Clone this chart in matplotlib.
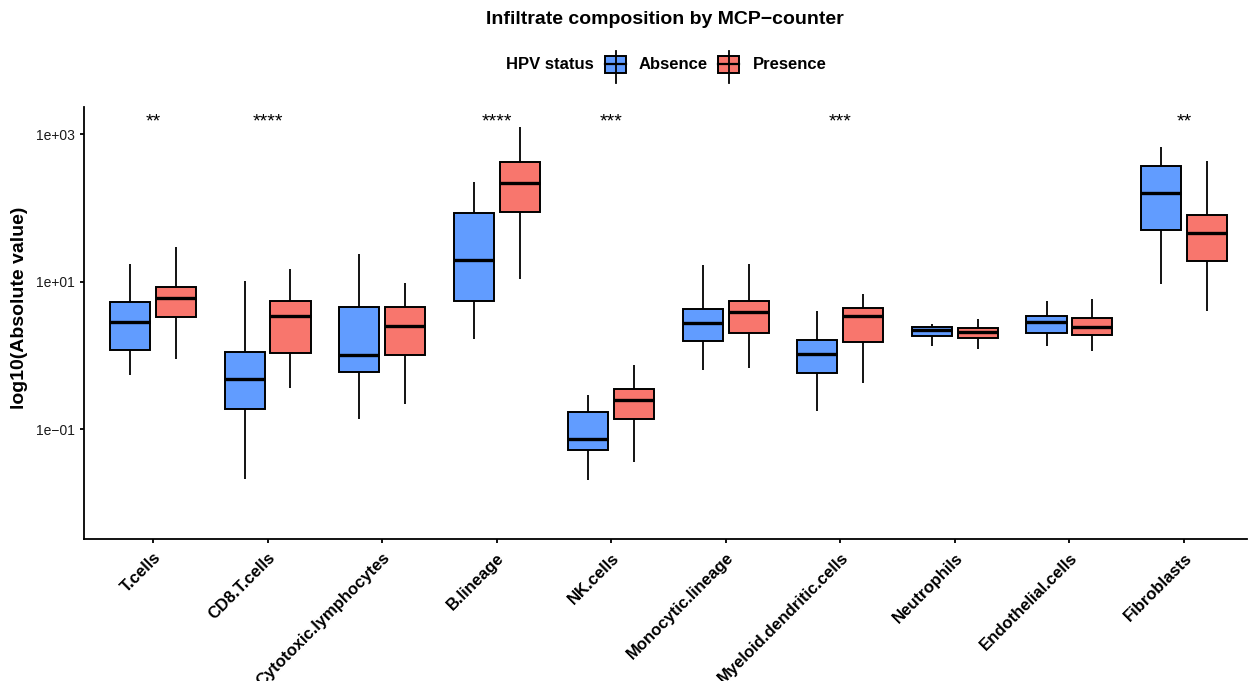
import matplotlib
matplotlib.use("Agg")
import matplotlib.pyplot as plt
from matplotlib.patches import Rectangle
from matplotlib.lines import Line2D
from matplotlib.ticker import FixedLocator, FixedFormatter, NullLocator

plt.rcParams['font.family'] = ['Liberation Sans', 'DejaVu Sans']

# Cell populations estimated by MCP-counter
cell_types = ["T.cells", "CD8.T.cells", "Cytotoxic.lymphocytes", "B.lineage",
              "NK.cells", "Monocytic.lineage", "Myeloid.dendritic.cells",
              "Neutrophils", "Endothelial.cells", "Fibroblasts"]

# Box statistics, HPV absent
absence_whislo = [0.54, 0.021, 0.136, 1.69, 0.0206, 0.628, 0.174, 1.34, 1.34, 9.22]
absence_q1     = [1.18, 0.189, 0.60, 5.52, 0.0516, 1.57, 0.582, 1.85, 2.03, 50.3]
absence_med    = [2.81, 0.483, 1.01, 19.9, 0.0734, 2.73, 1.04, 2.23, 2.81, 158]
absence_q3     = [5.25, 1.12, 4.58, 86.3, 0.171, 4.30, 1.62, 2.41, 3.46, 372]
absence_whishi = [17.2, 10.1, 23.5, 227, 0.293, 16.9, 3.97, 2.64, 5.52, 666]

# Box statistics, HPV present
presence_whislo = [0.90, 0.365, 0.221, 10.8, 0.0355, 0.668, 0.426, 1.21, 1.14, 4.04]
presence_q1     = [3.35, 1.09, 1.01, 88.2, 0.136, 2.01, 1.51, 1.74, 1.87, 19.3]
presence_med    = [6.01, 3.39, 2.51, 220, 0.246, 3.88, 3.39, 2.08, 2.43, 45.4]
presence_q3     = [8.47, 5.47, 4.54, 417, 0.35, 5.52, 4.40, 2.35, 3.19, 80.4]
presence_whishi = [29.9, 15.0, 9.5, 1268, 0.734, 17.4, 6.81, 3.09, 5.77, 434]

significance = ["**", "****", "", "****", "***", "", "***", "", "", "**"]
significance_y = 1480

y_ticks = [0.1, 10, 1000]
y_tick_labels = ["1e\u221201", "1e+01", "1e+03"]

groups = ["Absence", "Presence"]
colors = {"Absence": "#619CFF", "Presence": "#F8766D"}

W, H = 1252, 681
fig = plt.figure(figsize=(W / 100, H / 100), dpi=100)
ax = fig.add_axes([84.3 / W, 1 - 538.7 / H, (1247 - 84.3) / W, (538.7 - 106.7) / H])


def make_stats(lo, q1, med, q3, hi):
    return [dict(whislo=a, q1=b, med=c, q3=d, whishi=e, fliers=[])
            for a, b, c, d, e in zip(lo, q1, med, q3, hi)]


series = {
    "Absence": make_stats(absence_whislo, absence_q1, absence_med, absence_q3, absence_whishi),
    "Presence": make_stats(presence_whislo, presence_q1, presence_med, presence_q3, presence_whishi),
}
offsets = {"Absence": -0.2, "Presence": 0.2}
base = list(range(1, len(cell_types) + 1))

for g in groups:
    ax.bxp(series[g], positions=[p + offsets[g] for p in base], widths=0.35,
           patch_artist=True, showcaps=False, showfliers=False,
           boxprops=dict(facecolor=colors[g], edgecolor="black", linewidth=1.4),
           medianprops=dict(color="black", linewidth=2.4, solid_capstyle="butt"),
           whiskerprops=dict(color="black", linewidth=1.3, solid_capstyle="butt"),
           manage_ticks=False)

ax.set_yscale("log")
ax.set_ylim(10 ** -2.487, 10 ** 3.375)
ax.set_xlim(0.4, 10.55)

for x, s in zip(base, significance):
    if s:
        ax.text(x, significance_y, s, ha="center", va="center", fontsize=14)

for side in ("top", "right"):
    ax.spines[side].set_visible(False)
for side in ("left", "bottom"):
    ax.spines[side].set_linewidth(1.3)
    ax.spines[side].set_color("black")

ax.yaxis.set_major_locator(FixedLocator(y_ticks))
ax.yaxis.set_major_formatter(FixedFormatter(y_tick_labels))
ax.yaxis.set_minor_locator(NullLocator())
ax.tick_params(axis="both", direction="out", length=3.2, width=1.3, color="black")
ax.tick_params(axis="y", labelsize=10, labelcolor="#1a1a1a", pad=3.5)

ax.set_xticks(base)
ax.set_xticklabels(cell_types, rotation=45, ha="right", va="top",
                   rotation_mode="anchor", fontsize=12, fontweight="bold")
ax.tick_params(axis="x", pad=5)

# Title and y axis label
fig.text(665 / W, 1 - 23.5 / H, "Infiltrate composition by MCP\u2212counter",
         ha="center", va="baseline", fontsize=14, fontweight="bold")
fig.text(20 / W, 1 - 308 / H, "log10(Absolute value)", rotation=90,
         ha="center", va="center", fontsize=14, fontweight="bold")

# Legend drawn at the top
def px(x, y):
    return x / W, 1 - y / H

fig.text(*px(506, 69.3), "HPV status", fontsize=12, fontweight="bold",
         ha="left", va="baseline")
for g, kx, tx in (("Absence", 605, 638.3), ("Presence", 718.3, 753.3)):
    kw = 21
    cx = kx + kw / 2
    fig.add_artist(Line2D([cx / W, cx / W], [1 - 51 / H, 1 - 82.7 / H],
                          transform=fig.transFigure, color="black", linewidth=1.3))
    fig.add_artist(Rectangle(px(kx, 72.7), kw / W, (72.7 - 56) / H,
                             transform=fig.transFigure, facecolor=colors[g],
                             edgecolor="black", linewidth=1.4))
    fig.add_artist(Line2D([kx / W, (kx + kw) / W], [1 - 64.3 / H, 1 - 64.3 / H],
                          transform=fig.transFigure, color="black", linewidth=1.6))
    fig.text(*px(tx, 69.3), g, fontsize=12, fontweight="bold", ha="left", va="baseline")

fig.savefig("out.png", dpi=100)
